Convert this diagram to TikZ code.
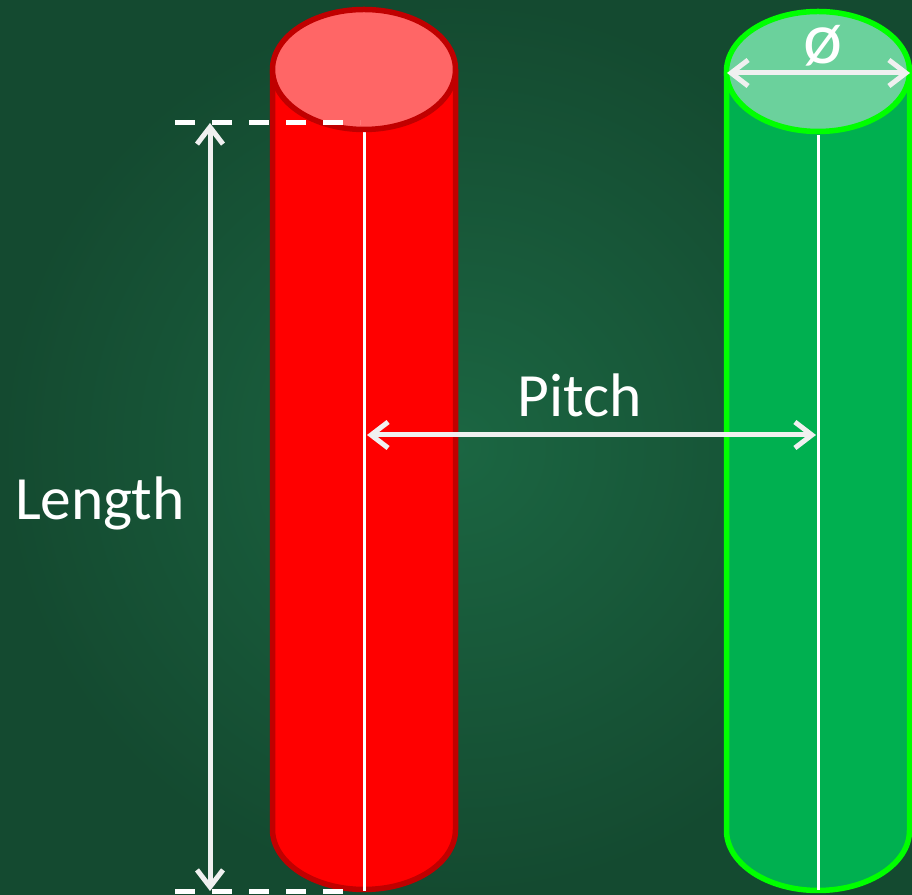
\documentclass[tikz,border=0pt]{standalone}
\usepackage{fontspec}
\setmainfont{Carlito}
\usetikzlibrary{arrows.meta}

\definecolor{boardin}{HTML}{1B6642}
\definecolor{boardout}{HTML}{144A30}
\definecolor{redbody}{HTML}{FF0000}
\definecolor{redrim}{HTML}{C00000}
\definecolor{redcap}{HTML}{FF6666}
\definecolor{greenbody}{HTML}{00B050}
\definecolor{greenrim}{HTML}{00FF00}
\definecolor{greencap}{HTML}{6BD19C}
\definecolor{dimwhite}{HTML}{F0F0F0}

\tikzset{
  rod/.style = {line width=0.11cm, line join=round},
  axis/.style = {white, line width=0.06cm},
  dimline/.style = {dimwhite, line width=0.1cm,
    {Straight Barb[length=0.34cm, width=0.52cm]}-{Straight Barb[length=0.34cm, width=0.52cm]}},
  guide/.style = {white, line width=0.1cm, dash pattern=on 0.4cm off 0.34cm},
  label/.style = {white, font=\fontsize{35}{42}\selectfont, anchor=base}
}

\begin{document}
\begin{tikzpicture}
    \useasboundingbox (0, 0) rectangle (18.24, 17.9);
    \shade[inner color=boardin, outer color=boardout] (0, 0) rectangle (18.24, 17.9);

    % red rod
    \coordinate (rtop) at (7.28, 16.51);
    \coordinate (rbot) at (7.28, 1.31);
    \filldraw[rod, fill=redbody, draw=redrim]
      (5.45, 16.51) -- (5.45, 1.31)
      arc[start angle=180, end angle=360, x radius=1.83, y radius=1.2]
      -- (9.11, 16.51);
    \coordinate (raxis) at (7.28, 0.08);
    \draw[axis] (7.28, 15.31) -- (raxis);
    \filldraw[rod, fill=redcap, draw=redrim] (rtop) ellipse [x radius=1.83, y radius=1.2];

    % green rod
    \coordinate (gtop) at (16.36, 16.47);
    \coordinate (gbot) at (16.36, 1.29);
    \filldraw[rod, fill=greenbody, draw=greenrim]
      (14.53, 16.47) -- (14.53, 1.29)
      arc[start angle=180, end angle=360, x radius=1.83, y radius=1.2]
      -- (18.19, 16.47);
    \coordinate (gaxis) at (16.36, 0.1);
    \draw[axis] (16.36, 15.2) -- (gaxis);
    \filldraw[rod, fill=greencap, draw=greenrim] (gtop) ellipse [x radius=1.83, y radius=1.2];

    % length
    \coordinate (ltop) at (3.5, 15.44);
    \coordinate (lbot) at (3.5, 0.06);
    \draw[guide] (ltop) -- (7.2, 15.44);
    \draw[guide] (lbot) -- (6.95, 0.06);
    \coordinate (la) at (4.2, 15.44);
    \coordinate (lb) at (4.2, 0.08);
    \draw[dimline] (la) -- (lb);
    \node[label] (len) at (2.0, 7.5) {Length};

    % pitch
    \coordinate (pa) at (7.34, 9.2);
    \coordinate (pb) at (16.32, 9.2);
    \draw[dimline] (pa) -- (pb);
    \node[label] (pitch) at (11.6, 9.56) {Pitch};

    % diameter
    \coordinate (da) at (14.54, 16.44);
    \coordinate (db) at (18.2, 16.44);
    \draw[dimline] (da) -- (db);
    \node[label, font=\fontsize{42}{48}\selectfont] (dia) at (16.46, 16.62) {ø};
  \end{tikzpicture}
\end{document}
